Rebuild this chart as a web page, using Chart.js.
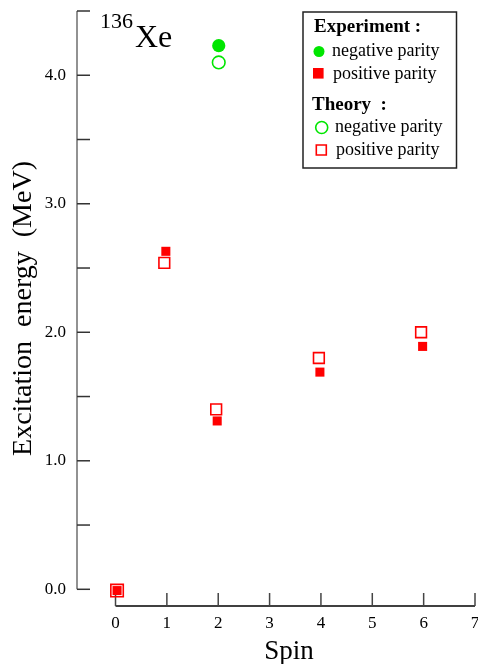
<!DOCTYPE html>
<html>
<head>
<meta charset="utf-8">
<script src="https://cdn.jsdelivr.net/npm/chart.js@4.4.0/dist/chart.umd.min.js"></script>
<style>
  html, body { margin: 0; padding: 0; background: #fff; }
  #wrap { width: 478px; height: 664px; }
</style>
</head>
<body>
<div id="wrap"><canvas id="grafico" width="478" height="664"></canvas></div>
<script>
// valori (spin, energia in MeV)
var expNegSpin = [2.01];
var expNegEnergy = [4.23];
var thNegSpin = [2.01];
var thNegEnergy = [4.10];
var expPosSpin = [0.03, 0.98, 1.98, 3.98, 5.98];
var expPosEnergy = [-0.01, 2.63, 1.31, 1.69, 1.89];
var thPosSpin = [0.03, 0.95, 1.96, 3.96, 5.95];
var thPosEnergy = [-0.01, 2.54, 1.40, 1.80, 2.00];

var xTicks = [0, 1, 2, 3, 4, 5, 6, 7];
var yTicks = [0, 0.5, 1, 1.5, 2, 2.5, 3, 3.5, 4, 4.5];
var yLabels = ['0.0', '1.0', '2.0', '3.0', '4.0'];

var serif = '"Liberation Serif", "Times New Roman", serif';
var green = '#00e600';
var red = '#ff0000';

function punti(xs, ys) {
  var out = [];
  for (var i = 0; i < xs.length; i++) out.push({ x: xs[i], y: ys[i] });
  return out;
}

// assi disegnati a mano (separati come nell'originale)
var assiPlugin = {
  id: 'assi',
  beforeDatasetsDraw: function (chart) {
    var ctx = chart.ctx;
    var xs = chart.scales.x, ys = chart.scales.y;
    var left = chart.chartArea.left, bottom = chart.chartArea.bottom;
    ctx.save();
    ctx.lineWidth = 1.5;
    // asse y
    ctx.strokeStyle = '#6e6e6e';
    ctx.beginPath();
    ctx.moveTo(left, ys.getPixelForValue(yTicks[yTicks.length - 1]));
    ctx.lineTo(left, ys.getPixelForValue(0));
    ctx.stroke();
    ctx.strokeStyle = '#333';
    yTicks.forEach(function (v) {
      var py = ys.getPixelForValue(v);
      ctx.beginPath();
      ctx.moveTo(left, py);
      ctx.lineTo(left + 13, py);
      ctx.stroke();
    });
    // asse x
    ctx.strokeStyle = '#000';
    ctx.beginPath();
    ctx.moveTo(xs.getPixelForValue(xTicks[0]), bottom);
    ctx.lineTo(xs.getPixelForValue(xTicks[xTicks.length - 1]), bottom);
    ctx.stroke();
    ctx.strokeStyle = '#444';
    xTicks.forEach(function (v) {
      var px = xs.getPixelForValue(v);
      ctx.beginPath();
      ctx.moveTo(px, bottom);
      ctx.lineTo(px, bottom - 13);
      ctx.stroke();
    });
    ctx.restore();
  }
};

function marker(ctx, ds, x, y, r) {
  ctx.save();
  ctx.fillStyle = ds.pointBackgroundColor;
  ctx.strokeStyle = ds.pointBorderColor;
  ctx.lineWidth = ds.pointBorderWidth;
  ctx.beginPath();
  if (ds.pointStyle === 'circle') {
    ctx.arc(x, y, r, 0, Math.PI * 2);
  } else {
    ctx.rect(x - r, y - r, 2 * r, 2 * r);
  }
  ctx.fill();
  if (ds.pointBorderWidth > 0) ctx.stroke();
  ctx.restore();
}

var legendaPlugin = {
  id: 'legenda',
  afterDraw: function (chart) {
    var ctx = chart.ctx;
    var d = chart.data.datasets;
    ctx.save();
    // titolo 136Xe
    ctx.fillStyle = '#000';
    ctx.textBaseline = 'alphabetic';
    ctx.font = '22px ' + serif;
    ctx.fillText('136', 100, 28);
    ctx.font = '32px ' + serif;
    ctx.fillText('Xe', 135, 47);
    // titolo asse x
    ctx.font = '27px ' + serif;
    ctx.textAlign = 'center';
    ctx.fillText('Spin', 289, 659);
    ctx.textAlign = 'left';

    // riquadro legenda
    ctx.strokeStyle = '#222';
    ctx.lineWidth = 1.5;
    ctx.strokeRect(303, 12, 153.5, 156);

    ctx.font = 'bold 19px ' + serif;
    ctx.fillText('Experiment :', 314, 31.5);
    ctx.fillText('Theory  :', 312, 110);

    ctx.font = '18px ' + serif;
    marker(ctx, d[0], 319, 51.5, 5.5);
    ctx.fillText(d[0].label, 332, 56);
    marker(ctx, d[1], 318.3, 73.3, 5.3);
    ctx.fillText(d[1].label, 333, 78.5);
    marker(ctx, d[2], 321.7, 127.5, 6);
    ctx.fillText(d[2].label, 335, 131.5);
    marker(ctx, d[3], 321.3, 150, 5);
    ctx.fillText(d[3].label, 336, 154.5);
    ctx.restore();
  }
};

var ctx = document.getElementById('grafico').getContext('2d');

var grafico = new Chart(ctx, {
  type: 'scatter',
  data: {
    datasets: [{
      label: 'negative parity',
      data: punti(expNegSpin, expNegEnergy),
      pointStyle: 'circle',
      pointRadius: 6.6,
      pointBackgroundColor: green,
      pointBorderColor: green,
      pointBorderWidth: 0
    }, {
      label: 'positive parity',
      data: punti(expPosSpin, expPosEnergy),
      pointStyle: 'rect',
      pointRadius: 6.4,
      pointBackgroundColor: red,
      pointBorderColor: red,
      pointBorderWidth: 0
    }, {
      label: 'negative parity',
      data: punti(thNegSpin, thNegEnergy),
      pointStyle: 'circle',
      pointRadius: 6.3,
      pointBackgroundColor: 'rgba(0,0,0,0)',
      pointBorderColor: green,
      pointBorderWidth: 1.6
    }, {
      label: 'positive parity',
      data: punti(thPosSpin, thPosEnergy),
      pointStyle: 'rect',
      pointRadius: [8.8, 7.6, 7.6, 7.6, 7.6],
      pointBackgroundColor: 'rgba(0,0,0,0)',
      pointBorderColor: red,
      pointBorderWidth: 1.6
    }]
  },
  options: {
    responsive: false,
    animation: false,
    events: [],
    layout: { autoPadding: false, padding: { top: 11, right: 3, left: 0, bottom: 0 } },
    plugins: {
      legend: { display: false },
      tooltip: { enabled: false }
    },
    scales: {
      x: {
        type: 'linear',
        min: -0.75,
        max: 7,
        afterBuildTicks: function (s) {
          s.ticks = xTicks.map(function (v) { return { value: v }; });
        },
        afterFit: function (s) {
          s.height = 58;
          s.paddingLeft = 0;
          s.paddingRight = 0;
        },
        grid: { display: false, drawTicks: false },
        border: { display: false },
        ticks: {
          padding: 7,
          color: '#000',
          maxRotation: 0,
          autoSkip: false,
          font: { family: serif, size: 17 },
          callback: function (v) { return String(v); }
        }
      },
      y: {
        type: 'linear',
        min: -0.13,
        max: 4.5,
        afterBuildTicks: function (s) {
          s.ticks = yTicks.map(function (v) { return { value: v }; });
        },
        afterFit: function (s) {
          s.width = 77;
          s.paddingTop = 0;
          s.paddingBottom = 0;
        },
        grid: { display: false, drawTicks: false },
        border: { display: false },
        ticks: {
          padding: 11,
          color: '#000',
          autoSkip: false,
          font: { family: serif, size: 17 },
          callback: function (v) {
            return v % 1 === 0 ? yLabels[v] : '';
          }
        },
        title: {
          display: true,
          text: 'Excitation  energy  (MeV)',
          color: '#000',
          font: { family: serif, size: 28, lineHeight: 1 },
          padding: { top: 9.5, bottom: 0 }
        }
      }
    }
  },
  plugins: [assiPlugin, legendaPlugin]
});
</script>
</body>
</html>
